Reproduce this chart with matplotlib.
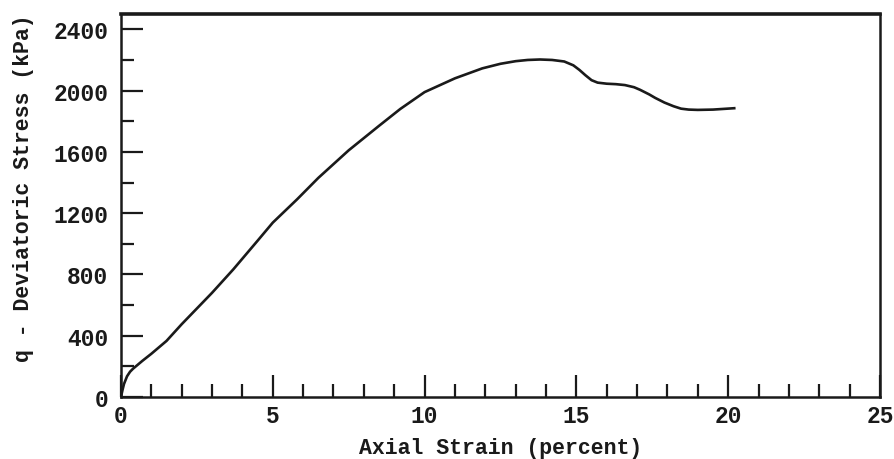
import matplotlib
matplotlib.use("Agg")
import matplotlib.pyplot as plt
from matplotlib.ticker import MultipleLocator

strain = [0, 0.05, 0.1, 0.2, 0.3, 0.4, 0.7, 1.0, 1.5, 2.0, 3.0, 3.7, 4.5, 5.0, 5.8, 6.5, 7.5,
          8.5, 9.2, 10.0, 11.0, 11.9, 12.5, 13.0, 13.4, 13.8, 14.2, 14.6, 14.9, 15.1,
          15.3, 15.5, 15.7, 16.0, 16.3, 16.6, 16.9, 17.1, 17.4, 17.6, 17.9, 18.2,
          18.45, 18.7, 19.0, 19.5, 20.2]
stress = [0, 45, 85, 135, 165, 185, 235, 282, 366, 475, 680, 833, 1020, 1138, 1290, 1430, 1610,
          1770, 1880, 1990, 2080, 2145, 2175, 2192, 2200, 2203, 2200, 2190, 2165, 2135,
          2100, 2068, 2052, 2045, 2042, 2036, 2022, 2005, 1975, 1952, 1922, 1898,
          1882, 1876, 1874, 1876, 1885]

x_ticks = [0, 5, 10, 15, 20, 25]
y_ticks = [0, 400, 800, 1200, 1600, 2000, 2400]

fam = ['Liberation Mono', 'DejaVu Sans Mono']
ink = '#1a1a1a'
fig = plt.figure(figsize=(8.94, 4.60), dpi=100)
ax = fig.add_axes([0.1353, 0.1348, 0.9843 - 0.1353, 0.9674 - 0.1348])
ax.plot(strain, stress, color=ink, lw=1.9)
ax.set_xlim(0, 25)
ax.set_ylim(0, 2500)
ax.set_xticks(x_ticks)
ax.set_yticks(y_ticks)
ax.xaxis.set_minor_locator(MultipleLocator(1))
ax.yaxis.set_minor_locator(MultipleLocator(200))
ax.tick_params(which='both', direction='in', top=False, right=False, width=1.6, color=ink)
ax.tick_params(which='major', length=15.5)
ax.tick_params(which='minor', length=9.5)
ax.tick_params(axis='x', pad=5)
ax.tick_params(axis='y', pad=9)
for sp in ax.spines.values():
    sp.set_linewidth(1.8)
    sp.set_color(ink)
ax.spines['top'].set_linewidth(2.6)
for lab in ax.get_xticklabels() + ax.get_yticklabels():
    lab.set_family(fam)
    lab.set_fontweight('bold')
    lab.set_fontsize(16.5)
    lab.set_color(ink)
ax.set_xlabel('Axial Strain (percent)', family=fam, fontweight='bold', fontsize=15.5, color=ink, labelpad=7)
ax.set_ylabel('q - Deviatoric Stress (kPa)', family=fam, fontweight='bold', fontsize=15.5, color=ink)
ax.yaxis.set_label_coords(-0.115, 0.548)
fig.savefig('out.png', dpi=100)
